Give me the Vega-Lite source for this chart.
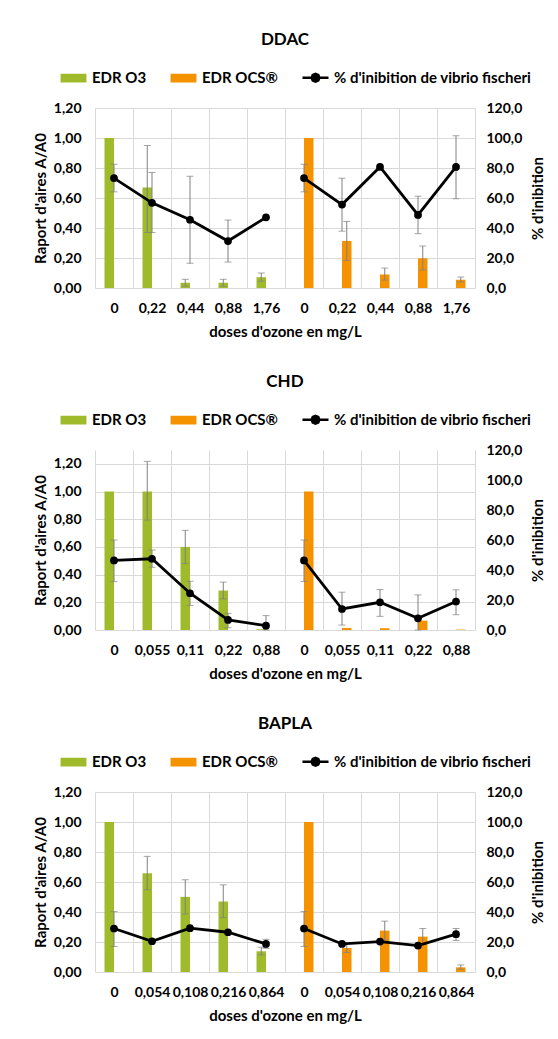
{
  "$schema": "https://vega.github.io/schema/vega-lite/v6.json",
  "padding": {"left": 33, "top": 31, "right": 5, "bottom": 5},
  "spacing": 34,
  "datasets": {
    "ddac": [
      {"cat": "O3|0", "series": "EDR O3", "bar": 1.0, "bLo": null, "bHi": null, "inh": 73.3, "iLo": 64.1, "iHi": 82.5},
      {"cat": "O3|0,22", "series": "EDR O3", "bar": 0.67, "bLo": 0.37, "bHi": 0.95, "inh": 56.8, "iLo": 37.0, "iHi": 77.0},
      {"cat": "O3|0,44", "series": "EDR O3", "bar": 0.035, "bLo": 0.012, "bHi": 0.058, "inh": 45.5, "iLo": 16.5, "iHi": 74.5},
      {"cat": "O3|0,88", "series": "EDR O3", "bar": 0.035, "bLo": 0.012, "bHi": 0.058, "inh": 31.3, "iLo": 17.3, "iHi": 45.3},
      {"cat": "O3|1,76", "series": "EDR O3", "bar": 0.072, "bLo": 0.045, "bHi": 0.1, "inh": 47.1, "iLo": null, "iHi": null},
      {"cat": "OCS|0", "series": "EDR OCS®", "bar": 1.0, "bLo": null, "bHi": null, "inh": 73.3, "iLo": 64.1, "iHi": 82.5},
      {"cat": "OCS|0,22", "series": "EDR OCS®", "bar": 0.314, "bLo": 0.184, "bHi": 0.444, "inh": 55.6, "iLo": 37.9, "iHi": 73.2},
      {"cat": "OCS|0,44", "series": "EDR OCS®", "bar": 0.09, "bLo": 0.053, "bHi": 0.133, "inh": 80.7, "iLo": null, "iHi": null},
      {"cat": "OCS|0,88", "series": "EDR OCS®", "bar": 0.198, "bLo": 0.12, "bHi": 0.28, "inh": 48.7, "iLo": 36.2, "iHi": 61.2},
      {"cat": "OCS|1,76", "series": "EDR OCS®", "bar": 0.055, "bLo": 0.04, "bHi": 0.073, "inh": 80.7, "iLo": 59.5, "iHi": 101.5}
    ],
    "chd": [
      {"cat": "O3|0", "series": "EDR O3", "bar": 1.0, "bLo": null, "bHi": null, "inh": 46.4, "iLo": 32.3, "iHi": 60.0},
      {"cat": "O3|0,055", "series": "EDR O3", "bar": 1.0, "bLo": 0.794, "bHi": 1.218, "inh": 47.5, "iLo": 41.8, "iHi": 53.3},
      {"cat": "O3|0,11", "series": "EDR O3", "bar": 0.6, "bLo": 0.48, "bHi": 0.72, "inh": 24.5, "iLo": 16.3, "iHi": 32.5},
      {"cat": "O3|0,22", "series": "EDR O3", "bar": 0.285, "bLo": 0.225, "bHi": 0.346, "inh": 6.7, "iLo": 1.5, "iHi": 11.1},
      {"cat": "O3|0,88", "series": "EDR O3", "bar": 0.005, "bLo": null, "bHi": null, "inh": 2.9, "iLo": 0.0, "iHi": 9.6},
      {"cat": "OCS|0", "series": "EDR OCS®", "bar": 1.0, "bLo": null, "bHi": null, "inh": 46.4, "iLo": 32.3, "iHi": 60.0},
      {"cat": "OCS|0,055", "series": "EDR OCS®", "bar": 0.015, "bLo": null, "bHi": null, "inh": 14.0, "iLo": 3.3, "iHi": 25.2},
      {"cat": "OCS|0,11", "series": "EDR OCS®", "bar": 0.013, "bLo": null, "bHi": null, "inh": 18.5, "iLo": 9.1, "iHi": 27.0},
      {"cat": "OCS|0,22", "series": "EDR OCS®", "bar": 0.068, "bLo": null, "bHi": null, "inh": 7.8, "iLo": 0.0, "iHi": 23.4},
      {"cat": "OCS|0,88", "series": "EDR OCS®", "bar": 0.003, "bLo": null, "bHi": null, "inh": 19.0, "iLo": 10.2, "iHi": 26.8}
    ],
    "bapla": [
      {"cat": "O3|0", "series": "EDR O3", "bar": 1.0, "bLo": null, "bHi": null, "inh": 29.0, "iLo": 17.0, "iHi": 40.3},
      {"cat": "O3|0,054", "series": "EDR O3", "bar": 0.659, "bLo": 0.548, "bHi": 0.771, "inh": 20.5, "iLo": null, "iHi": null},
      {"cat": "O3|0,108", "series": "EDR O3", "bar": 0.501, "bLo": 0.387, "bHi": 0.615, "inh": 29.2, "iLo": null, "iHi": null},
      {"cat": "O3|0,216", "series": "EDR O3", "bar": 0.47, "bLo": 0.363, "bHi": 0.581, "inh": 26.5, "iLo": null, "iHi": null},
      {"cat": "O3|0,864", "series": "EDR O3", "bar": 0.138, "bLo": 0.114, "bHi": 0.165, "inh": 18.7, "iLo": 15.8, "iHi": 21.8},
      {"cat": "OCS|0", "series": "EDR OCS®", "bar": 1.0, "bLo": null, "bHi": null, "inh": 29.0, "iLo": 17.0, "iHi": 40.3},
      {"cat": "OCS|0,054", "series": "EDR OCS®", "bar": 0.16, "bLo": 0.13, "bHi": 0.19, "inh": 18.7, "iLo": null, "iHi": null},
      {"cat": "OCS|0,108", "series": "EDR OCS®", "bar": 0.276, "bLo": 0.214, "bHi": 0.339, "inh": 20.3, "iLo": null, "iHi": null},
      {"cat": "OCS|0,216", "series": "EDR OCS®", "bar": 0.236, "bLo": 0.183, "bHi": 0.29, "inh": 17.6, "iLo": null, "iHi": null},
      {"cat": "OCS|0,864", "series": "EDR OCS®", "bar": 0.031, "bLo": 0.018, "bHi": 0.047, "inh": 25.2, "iLo": 21.0, "iHi": 29.0}
    ]
  },
  "vconcat": [
    {
      "title": {"text": "DDAC"},
      "width": 380, "height": 180,
      "data": {"name": "ddac"},
      "encoding": {
        "x": {"field": "cat", "type": "nominal",
          "scale": {"domain": ["O3|0","O3|0,22","O3|0,44","O3|0,88","O3|1,76","OCS|0","OCS|0,22","OCS|0,44","OCS|0,88","OCS|1,76"], "paddingInner": 0, "paddingOuter": 0},
          "axis": {"title": "doses d'ozone en mg/L", "labelExpr": "split(datum.label, '|')[1]", "labelAngle": 0, "grid": true, "tickBand": "extent", "ticks": false, "tickSize": 0, "domain": false, "labelPadding": 13, "titlePadding": 9, "labelOverlap": false}}
      },
      "layer": [
        {"layer": [
          {"mark": {"type": "bar"},
           "encoding": {
             "y": {"field": "bar", "type": "quantitative", "scale": {"domain": [0, 1.2], "nice": false, "zero": true},
               "axis": {"title": "Raport d'aires A/A0", "orient": "left", "values": [0,0.2,0.4,0.6,0.8,1,1.2], "tickCount": 10, "labelExpr": "replace(format(datum.value, '.2f'), '.', ',')", "grid": true, "domain": false, "ticks": false, "tickSize": 0, "labelPadding": 14, "titlePadding": 5, "labelOverlap": false}},
             "xOffset": {"field": "series", "type": "nominal", "scale": {"domain": ["EDR O3", "EDR OCS®"], "paddingInner": 0, "paddingOuter": 1}},
             "color": {"field": "series", "type": "nominal",
               "scale": {"domain": ["EDR O3", "EDR OCS®", "% d'inibition de vibrio fischeri"], "range": ["#9FBA2A", "#F59200", "#000000"]},
               "legend": {"title": null, "orient": "none", "legendX": -36, "legendY": -45, "direction": "horizontal", "padding": 0, "symbolSize": 676, "symbolStrokeWidth": 2.5, "labelOffset": 4, "columnPadding": 19, "labelLimit": 400,
                 "encode": {"symbols": {"update": {
                   "shape": {"signal": "indexof(datum.value, '%') === 0 ? 'M-1,0H1M0.3,0L0.212,0.212L0,0.3L-0.212,0.212L-0.3,0L-0.212,-0.212L0,-0.3L0.212,-0.212Z' : 'M-0.9,-0.24H0.9V0.24H-0.9Z'"},
                   "fill": {"signal": "indexof(datum.value, '%') === 0 ? '#000000' : (datum.value === 'EDR O3' ? '#9FBA2A' : '#F59200')"},
                   "stroke": {"signal": "indexof(datum.value, '%') === 0 ? '#000000' : (datum.value === 'EDR O3' ? '#9FBA2A' : '#F59200')"},
                   "opacity": {"value": 1}
                 }}}}}
           }},
          {"mark": {"type": "rule", "color": "#808080", "strokeWidth": 1},
           "encoding": {"y": {"field": "bLo", "type": "quantitative"}, "y2": {"field": "bHi"}, "xOffset": {"field": "series", "type": "nominal"}}},
          {"mark": {"type": "tick", "color": "#808080", "size": 7, "thickness": 1},
           "encoding": {"y": {"field": "bLo", "type": "quantitative"}, "xOffset": {"field": "series", "type": "nominal"}}},
          {"mark": {"type": "tick", "color": "#808080", "size": 7, "thickness": 1},
           "encoding": {"y": {"field": "bHi", "type": "quantitative"}, "xOffset": {"field": "series", "type": "nominal"}}}
        ]},
        {"layer": [
          {"mark": {"type": "rule", "color": "#808080", "strokeWidth": 1},
           "encoding": {"y": {"field": "iLo", "type": "quantitative", "scale": {"domain": [0, 120], "nice": false},
               "axis": {"title": "% d'inibition", "orient": "right", "values": [0,20,40,60,80,100,120], "tickCount": 10, "labelExpr": "replace(format(datum.value, '.1f'), '.', ',')", "grid": false, "domain": false, "ticks": false, "tickSize": 0, "labelPadding": 11, "titlePadding": 24, "titleAngle": 270, "labelOverlap": false}},
             "y2": {"field": "iHi"}}},
          {"mark": {"type": "tick", "color": "#808080", "size": 7, "thickness": 1},
           "encoding": {"y": {"field": "iLo", "type": "quantitative"}}},
          {"mark": {"type": "tick", "color": "#808080", "size": 7, "thickness": 1},
           "encoding": {"y": {"field": "iHi", "type": "quantitative"}}},
          {"mark": {"type": "line", "strokeWidth": 2.8},
           "encoding": {"y": {"field": "inh", "type": "quantitative"}, "detail": {"field": "series"}, "color": {"datum": "% d'inibition de vibrio fischeri", "type": "nominal"}}},
          {"mark": {"type": "circle", "size": 60, "opacity": 1},
           "encoding": {"y": {"field": "inh", "type": "quantitative"}, "color": {"datum": "% d'inibition de vibrio fischeri", "type": "nominal"}}}
        ]}
      ],
      "resolve": {"scale": {"y": "independent"}, "axis": {"y": "independent"}}
    },
    {
      "title": {"text": "CHD"},
      "width": 380, "height": 180,
      "data": {"name": "chd"},
      "encoding": {
        "x": {"field": "cat", "type": "nominal",
          "scale": {"domain": ["O3|0","O3|0,055","O3|0,11","O3|0,22","O3|0,88","OCS|0","OCS|0,055","OCS|0,11","OCS|0,22","OCS|0,88"], "paddingInner": 0, "paddingOuter": 0},
          "axis": {"title": "doses d'ozone en mg/L", "labelExpr": "split(datum.label, '|')[1]", "labelAngle": 0, "grid": true, "tickBand": "extent", "ticks": false, "tickSize": 0, "domain": false, "labelPadding": 13, "titlePadding": 9, "labelOverlap": false}}
      },
      "layer": [
        {"layer": [
          {"mark": {"type": "bar"},
           "encoding": {
             "y": {"field": "bar", "type": "quantitative", "scale": {"domain": [0, 1.3], "nice": false, "zero": true},
               "axis": {"title": "Raport d'aires A/A0", "orient": "left", "values": [0,0.2,0.4,0.6,0.8,1,1.2], "tickCount": 10, "labelExpr": "replace(format(datum.value, '.2f'), '.', ',')", "grid": true, "domain": false, "ticks": false, "tickSize": 0, "labelPadding": 14, "titlePadding": 5, "labelOverlap": false}},
             "xOffset": {"field": "series", "type": "nominal", "scale": {"domain": ["EDR O3", "EDR OCS®"], "paddingInner": 0, "paddingOuter": 1}},
             "color": {"field": "series", "type": "nominal",
               "scale": {"domain": ["EDR O3", "EDR OCS®", "% d'inibition de vibrio fischeri"], "range": ["#9FBA2A", "#F59200", "#000000"]},
               "legend": {"title": null, "orient": "none", "legendX": -36, "legendY": -45, "direction": "horizontal", "padding": 0, "symbolSize": 676, "symbolStrokeWidth": 2.5, "labelOffset": 4, "columnPadding": 19, "labelLimit": 400,
                 "encode": {"symbols": {"update": {
                   "shape": {"signal": "indexof(datum.value, '%') === 0 ? 'M-1,0H1M0.3,0L0.212,0.212L0,0.3L-0.212,0.212L-0.3,0L-0.212,-0.212L0,-0.3L0.212,-0.212Z' : 'M-0.9,-0.24H0.9V0.24H-0.9Z'"},
                   "fill": {"signal": "indexof(datum.value, '%') === 0 ? '#000000' : (datum.value === 'EDR O3' ? '#9FBA2A' : '#F59200')"},
                   "stroke": {"signal": "indexof(datum.value, '%') === 0 ? '#000000' : (datum.value === 'EDR O3' ? '#9FBA2A' : '#F59200')"},
                   "opacity": {"value": 1}
                 }}}}}
           }},
          {"mark": {"type": "rule", "color": "#808080", "strokeWidth": 1},
           "encoding": {"y": {"field": "bLo", "type": "quantitative"}, "y2": {"field": "bHi"}, "xOffset": {"field": "series", "type": "nominal"}}},
          {"mark": {"type": "tick", "color": "#808080", "size": 7, "thickness": 1},
           "encoding": {"y": {"field": "bLo", "type": "quantitative"}, "xOffset": {"field": "series", "type": "nominal"}}},
          {"mark": {"type": "tick", "color": "#808080", "size": 7, "thickness": 1},
           "encoding": {"y": {"field": "bHi", "type": "quantitative"}, "xOffset": {"field": "series", "type": "nominal"}}}
        ]},
        {"layer": [
          {"mark": {"type": "rule", "color": "#808080", "strokeWidth": 1},
           "encoding": {"y": {"field": "iLo", "type": "quantitative", "scale": {"domain": [0, 120], "nice": false},
               "axis": {"title": "% d'inibition", "orient": "right", "values": [0,20,40,60,80,100,120], "tickCount": 10, "labelExpr": "replace(format(datum.value, '.1f'), '.', ',')", "grid": false, "domain": false, "ticks": false, "tickSize": 0, "labelPadding": 11, "titlePadding": 24, "titleAngle": 270, "labelOverlap": false}},
             "y2": {"field": "iHi"}}},
          {"mark": {"type": "tick", "color": "#808080", "size": 7, "thickness": 1},
           "encoding": {"y": {"field": "iLo", "type": "quantitative"}}},
          {"mark": {"type": "tick", "color": "#808080", "size": 7, "thickness": 1},
           "encoding": {"y": {"field": "iHi", "type": "quantitative"}}},
          {"mark": {"type": "line", "strokeWidth": 2.8},
           "encoding": {"y": {"field": "inh", "type": "quantitative"}, "detail": {"field": "series"}, "color": {"datum": "% d'inibition de vibrio fischeri", "type": "nominal"}}},
          {"mark": {"type": "circle", "size": 60, "opacity": 1},
           "encoding": {"y": {"field": "inh", "type": "quantitative"}, "color": {"datum": "% d'inibition de vibrio fischeri", "type": "nominal"}}}
        ]}
      ],
      "resolve": {"scale": {"y": "independent"}, "axis": {"y": "independent"}}
    },
    {
      "title": {"text": "BAPLA"},
      "width": 380, "height": 180,
      "data": {"name": "bapla"},
      "encoding": {
        "x": {"field": "cat", "type": "nominal",
          "scale": {"domain": ["O3|0","O3|0,054","O3|0,108","O3|0,216","O3|0,864","OCS|0","OCS|0,054","OCS|0,108","OCS|0,216","OCS|0,864"], "paddingInner": 0, "paddingOuter": 0},
          "axis": {"title": "doses d'ozone en mg/L", "labelExpr": "split(datum.label, '|')[1]", "labelAngle": 0, "grid": true, "tickBand": "extent", "ticks": false, "tickSize": 0, "domain": false, "labelPadding": 13, "titlePadding": 9, "labelOverlap": false}}
      },
      "layer": [
        {"layer": [
          {"mark": {"type": "bar"},
           "encoding": {
             "y": {"field": "bar", "type": "quantitative", "scale": {"domain": [0, 1.2], "nice": false, "zero": true},
               "axis": {"title": "Raport d'aires A/A0", "orient": "left", "values": [0,0.2,0.4,0.6,0.8,1,1.2], "tickCount": 10, "labelExpr": "replace(format(datum.value, '.2f'), '.', ',')", "grid": true, "domain": false, "ticks": false, "tickSize": 0, "labelPadding": 14, "titlePadding": 5, "labelOverlap": false}},
             "xOffset": {"field": "series", "type": "nominal", "scale": {"domain": ["EDR O3", "EDR OCS®"], "paddingInner": 0, "paddingOuter": 1}},
             "color": {"field": "series", "type": "nominal",
               "scale": {"domain": ["EDR O3", "EDR OCS®", "% d'inibition de vibrio fischeri"], "range": ["#9FBA2A", "#F59200", "#000000"]},
               "legend": {"title": null, "orient": "none", "legendX": -36, "legendY": -45, "direction": "horizontal", "padding": 0, "symbolSize": 676, "symbolStrokeWidth": 2.5, "labelOffset": 4, "columnPadding": 19, "labelLimit": 400,
                 "encode": {"symbols": {"update": {
                   "shape": {"signal": "indexof(datum.value, '%') === 0 ? 'M-1,0H1M0.3,0L0.212,0.212L0,0.3L-0.212,0.212L-0.3,0L-0.212,-0.212L0,-0.3L0.212,-0.212Z' : 'M-0.9,-0.24H0.9V0.24H-0.9Z'"},
                   "fill": {"signal": "indexof(datum.value, '%') === 0 ? '#000000' : (datum.value === 'EDR O3' ? '#9FBA2A' : '#F59200')"},
                   "stroke": {"signal": "indexof(datum.value, '%') === 0 ? '#000000' : (datum.value === 'EDR O3' ? '#9FBA2A' : '#F59200')"},
                   "opacity": {"value": 1}
                 }}}}}
           }},
          {"mark": {"type": "rule", "color": "#808080", "strokeWidth": 1},
           "encoding": {"y": {"field": "bLo", "type": "quantitative"}, "y2": {"field": "bHi"}, "xOffset": {"field": "series", "type": "nominal"}}},
          {"mark": {"type": "tick", "color": "#808080", "size": 7, "thickness": 1},
           "encoding": {"y": {"field": "bLo", "type": "quantitative"}, "xOffset": {"field": "series", "type": "nominal"}}},
          {"mark": {"type": "tick", "color": "#808080", "size": 7, "thickness": 1},
           "encoding": {"y": {"field": "bHi", "type": "quantitative"}, "xOffset": {"field": "series", "type": "nominal"}}}
        ]},
        {"layer": [
          {"mark": {"type": "rule", "color": "#808080", "strokeWidth": 1},
           "encoding": {"y": {"field": "iLo", "type": "quantitative", "scale": {"domain": [0, 120], "nice": false},
               "axis": {"title": "% d'inibition", "orient": "right", "values": [0,20,40,60,80,100,120], "tickCount": 10, "labelExpr": "replace(format(datum.value, '.1f'), '.', ',')", "grid": false, "domain": false, "ticks": false, "tickSize": 0, "labelPadding": 11, "titlePadding": 24, "titleAngle": 270, "labelOverlap": false}},
             "y2": {"field": "iHi"}}},
          {"mark": {"type": "tick", "color": "#808080", "size": 7, "thickness": 1},
           "encoding": {"y": {"field": "iLo", "type": "quantitative"}}},
          {"mark": {"type": "tick", "color": "#808080", "size": 7, "thickness": 1},
           "encoding": {"y": {"field": "iHi", "type": "quantitative"}}},
          {"mark": {"type": "line", "strokeWidth": 2.8},
           "encoding": {"y": {"field": "inh", "type": "quantitative"}, "detail": {"field": "series"}, "color": {"datum": "% d'inibition de vibrio fischeri", "type": "nominal"}}},
          {"mark": {"type": "circle", "size": 60, "opacity": 1},
           "encoding": {"y": {"field": "inh", "type": "quantitative"}, "color": {"datum": "% d'inibition de vibrio fischeri", "type": "nominal"}}}
        ]}
      ],
      "resolve": {"scale": {"y": "independent"}, "axis": {"y": "independent"}}
    }
  ],
  "resolve": {"scale": {"x": "independent", "y": "independent", "color": "independent", "xOffset": "independent"}, "axis": {"x": "independent", "y": "independent"}, "legend": {"color": "independent"}},
  "config": {
    "font": "Lato",
    "view": {"stroke": null},
    "background": "#ffffff",
    "axis": {"labelFont": "Lato", "labelFontSize": 14, "labelFontWeight": "bold", "labelColor": "#000000", "titleFont": "Lato", "titleFontSize": 15, "titleFontWeight": "bold", "titleColor": "#000000", "gridColor": "#D9D9D9", "gridWidth": 1, "labelOverlap": false, "labelSeparation": 0},
    "legend": {"labelFont": "Lato", "labelFontSize": 15, "labelFontWeight": "bold", "labelColor": "#000000"},
    "title": {"font": "Lato", "fontSize": 17, "fontWeight": "bold", "color": "#000000", "anchor": "middle", "frame": "group", "offset": 14}
  }
}
